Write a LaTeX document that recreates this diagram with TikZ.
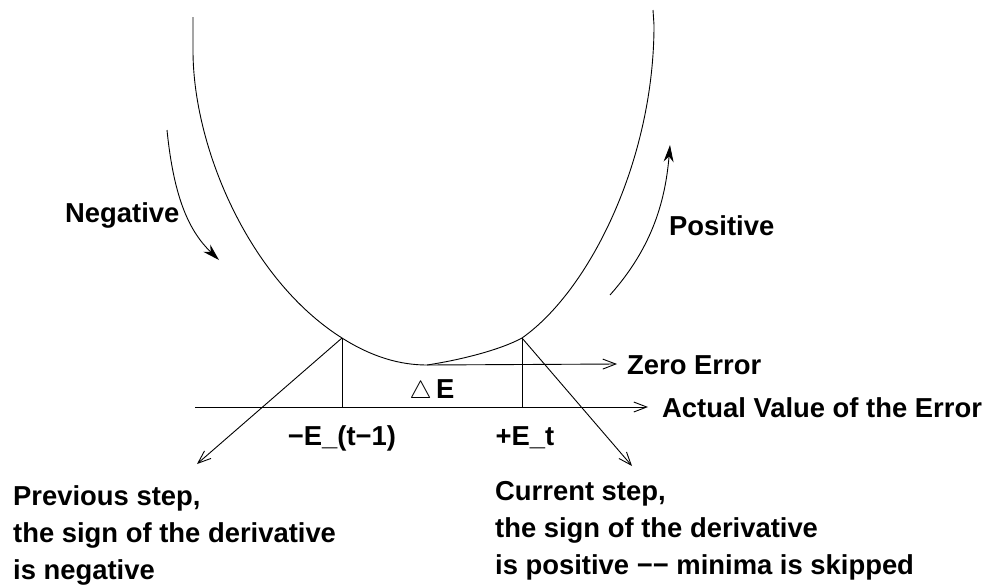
\documentclass[tikz,border=0pt]{standalone}
\usepackage{fontspec}
\setmainfont{Liberation Sans}
\usetikzlibrary{arrows.meta}
\begin{document}
\begin{tikzpicture}[x=1pt,y=-1pt,
  lbl/.style={font=\fontsize{27.4}{37}\selectfont\bfseries, inner sep=0pt},
  thin line/.style={line width=0.9pt},
  openarrow/.style={thin line,-{Straight Barb[length=13pt,width=10pt,line width=0.9pt]}},
  fillarrow/.style={thin line,-{Stealth[length=17pt,width=10pt]}}]
\useasboundingbox (0,0) rectangle (990,584);
% key points
\coordinate (top l) at (193,17);
\coordinate (top l2) at (193,53);
\coordinate (pl) at (342,338);
\coordinate (pr) at (522,338);
\coordinate (pm) at (427,365);
\coordinate (top r2) at (654,25);
\coordinate (top r) at (653,10);
\coordinate (al) at (342,407);
\coordinate (ar) at (522,407);
\coordinate (ax0) at (195,407);
\coordinate (ax1) at (648,407);
\coordinate (ze) at (617,364);
\coordinate (tl) at (197,464);
\coordinate (tr) at (632,466);
% error curve
\draw[thin line] (top l) -- (top l2)
  .. controls (194,150) and (250,280) .. (pl)
  .. controls (372,357) and (400,365) .. (pm)
  .. controls (460,360) and (500,350) .. (pr)
  .. controls (590,290) and (654,160) .. (top r2) -- (top r);
% axis and zero error
\draw[openarrow] (ax0) -- (ax1);
\draw[openarrow] (pm) -- (ze);
% verticals
\draw[thin line] (pl) -- (al);
\draw[thin line] (pr) -- (ar);
% tangents
\draw[openarrow] (pl) -- (tl);
\draw[openarrow] (pr) -- (tr);
% direction arrows
\coordinate (n0) at (167,130);
\coordinate (n1) at (219,260);
\draw[fillarrow] (n0) .. controls (174,200) and (190,232) .. (n1);
\coordinate (p0) at (610,295);
\coordinate (p1) at (670,145);
\draw[fillarrow] (p0) .. controls (650,250) and (665,205) .. (p1);
% labels
\node[lbl, anchor=west] (neg) at (65,215) {Negative};
\node[lbl, anchor=west] (pos) at (669,226) {Positive};
\node[lbl, anchor=west] (zer) at (627,365) {Zero Error};
\node[lbl, anchor=west] (act) at (662,408) {Actual Value of the Error};
\node[lbl] (de) at (432,391) {$\triangle$\,E};
\node[lbl] (em) at (342,438) {−E\_(t−1)};
\node[lbl] (ep) at (525,438) {+E\_t};
\node[lbl, anchor=north west, align=left] (prev) at (13,485) {Previous step,\\the sign of the derivative\\is negative};
\node[lbl, anchor=north west, align=left] (curr) at (495,481) {Current step,\\the sign of the derivative\\is positive −− minima is skipped};
\end{tikzpicture}
\end{document}
